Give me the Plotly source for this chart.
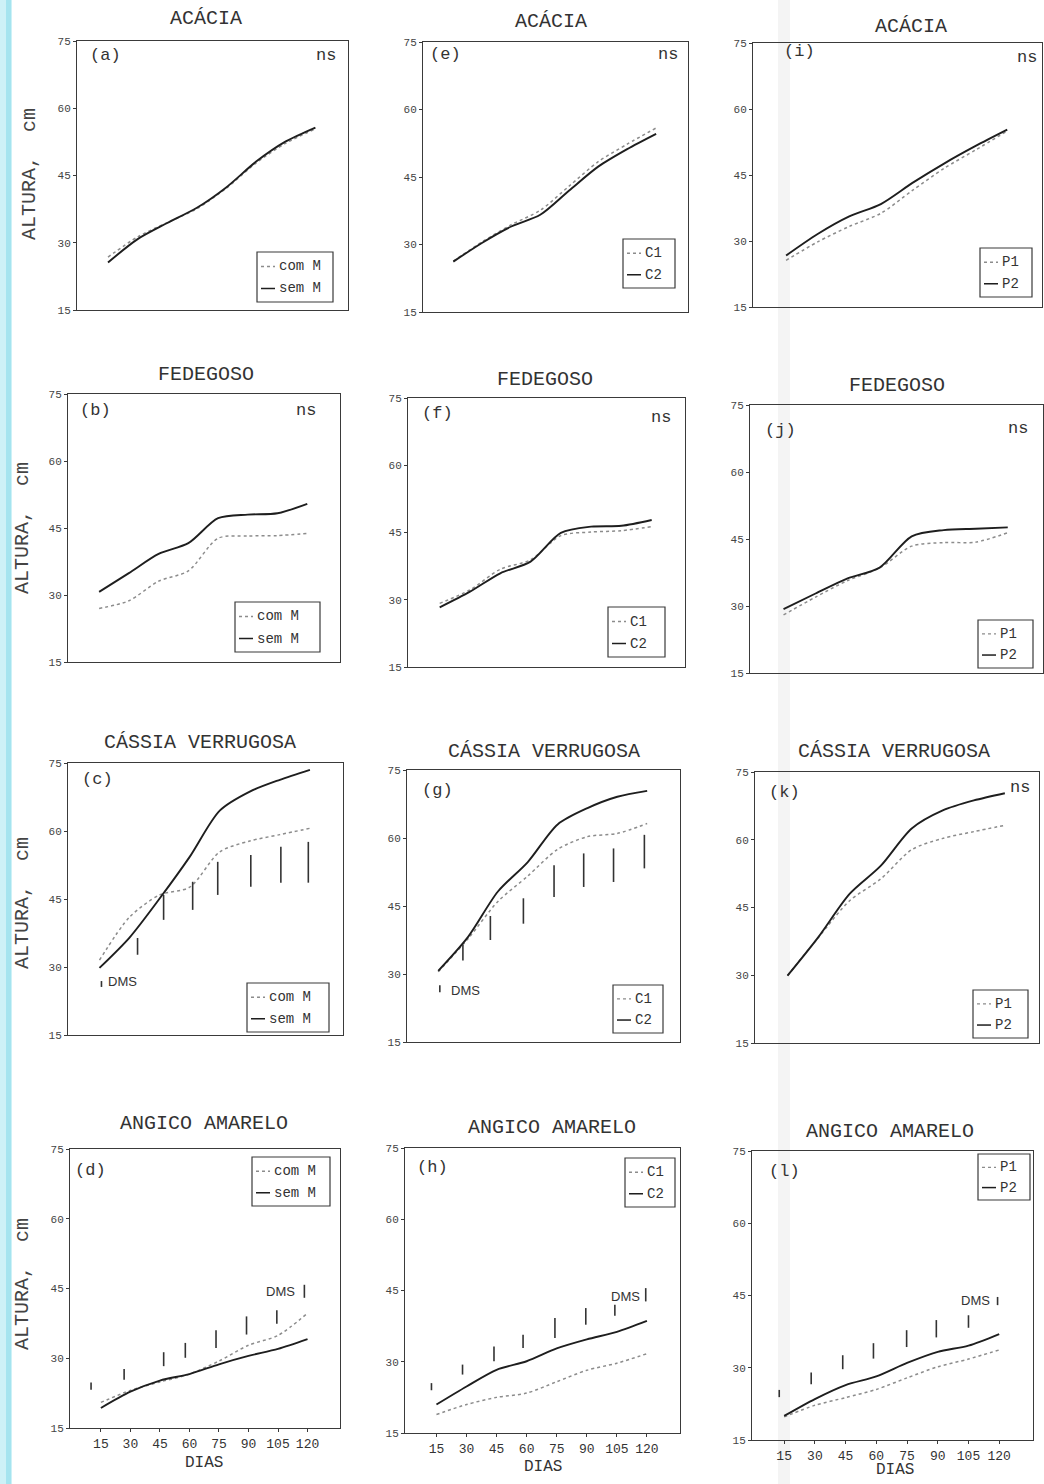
import plotly.graph_objects as go

W, H = 1044, 1484
DAYS = [15, 30, 45, 60, 75, 90, 105, 120]
X_TICKS = [15, 30, 45, 60, 75, 90, 105, 120]
Y_TICKS = [15, 30, 45, 60, 75]

# ---- series values (altura, cm) ----
a_com_M = [26.8, 31.3, 34.5, 37.6, 42.2, 47.8, 52.2, 55.4]
a_sem_M = [25.6, 30.8, 34.4, 37.8, 42.4, 48.1, 52.6, 55.7]
b_com_M = [27.0, 28.7, 33.1, 35.4, 42.7, 43.2, 43.3, 43.8]
b_sem_M = [30.7, 34.9, 39.2, 41.6, 47.2, 48.0, 48.3, 50.4]
c_com_M = [31.5, 41.0, 45.9, 47.6, 55.4, 57.8, 59.2, 60.6]
c_sem_M = [29.8, 36.5, 45.1, 54.3, 64.5, 68.7, 71.3, 73.5]
d_com_M = [20.5, 23.1, 24.9, 26.6, 29.4, 32.8, 34.9, 39.7]
d_sem_M = [19.3, 22.8, 25.2, 26.6, 28.7, 30.5, 32.0, 34.1]
e_C1 = [26.3, 30.6, 34.4, 37.6, 43.0, 48.4, 52.3, 55.9]
e_C2 = [26.2, 30.4, 34.0, 36.6, 42.0, 47.3, 51.2, 54.6]
f_C1 = [29.2, 32.2, 36.8, 38.9, 44.3, 45.1, 45.4, 46.3]
f_C2 = [28.3, 31.8, 35.9, 38.5, 44.9, 46.3, 46.5, 47.8]
g_C1 = [30.5, 37.8, 46.0, 51.6, 57.5, 60.3, 61.0, 63.2]
g_C2 = [30.7, 38.2, 48.2, 54.7, 63.0, 66.6, 69.1, 70.4]
h_C1 = [18.9, 21.0, 22.5, 23.4, 25.8, 28.2, 29.7, 31.7]
h_C2 = [21.0, 24.8, 28.3, 30.1, 32.8, 34.7, 36.3, 38.6]
i_P1 = [25.6, 29.8, 33.3, 36.3, 41.5, 46.5, 50.7, 55.0]
i_P2 = [26.7, 31.6, 35.6, 38.4, 43.2, 47.6, 51.6, 55.3]
j_P1 = [28.0, 32.0, 35.7, 38.5, 43.4, 44.2, 44.3, 46.4]
j_P2 = [29.3, 32.8, 36.2, 38.6, 45.6, 47.0, 47.3, 47.6]
k_P1 = [29.9, 38.4, 46.5, 51.3, 57.8, 60.3, 61.8, 63.2]
k_P2 = [29.9, 38.5, 48.0, 54.2, 62.5, 66.5, 68.7, 70.3]
l_P1 = [19.8, 22.2, 23.8, 25.5, 27.9, 30.2, 31.8, 33.7]
l_P2 = [20.0, 23.5, 26.4, 28.2, 31.0, 33.3, 34.6, 37.0]

# ---- DMS bars (day, low, high) ----
c_dms_x = [16, 34, 47, 61.5, 74, 90.5, 105.5, 119.2]
c_dms_lo = [25.6, 32.7, 40.4, 42.6, 45.9, 47.7, 48.6, 48.6]
c_dms_hi = [26.9, 36.4, 45.9, 48.8, 53.2, 54.7, 56.5, 57.6]
d_dms_x = [10.0, 26.8, 46.9, 57.9, 73.5, 89.0, 104.4, 118.4]
d_dms_lo = [23.2, 25.4, 28.3, 30.1, 32.2, 35.1, 37.4, 43.0]
d_dms_hi = [24.8, 27.7, 31.3, 33.3, 36.0, 39.0, 40.3, 45.8]
g_dms_x = [15.8, 27.4, 41.2, 57.8, 73.2, 88.1, 103.1, 118.6]
g_dms_lo = [26.0, 33.0, 37.5, 41.1, 47.0, 49.2, 50.3, 53.3]
g_dms_hi = [27.5, 36.4, 42.8, 46.7, 54.0, 56.6, 57.7, 60.7]
h_dms_x = [12.5, 28.0, 43.7, 58.2, 74.1, 89.5, 104.0, 119.4]
h_dms_lo = [24.0, 27.3, 30.1, 32.9, 35.0, 37.8, 39.7, 42.7]
h_dms_hi = [25.5, 29.4, 33.2, 35.7, 39.2, 41.3, 42.0, 45.5]
l_dms_x = [12.6, 28.2, 43.6, 58.6, 74.8, 89.3, 105.0, 119.2]
l_dms_lo = [23.9, 26.6, 29.7, 31.9, 34.3, 36.3, 38.3, 43.0]
l_dms_hi = [25.4, 29.0, 32.6, 35.1, 37.8, 39.9, 40.9, 44.7]

MONO = "Liberation Mono, Courier New, monospace"
SANS = "Liberation Sans, Arial, sans-serif"
DARK = "#1e1e1e"
GREY = "#8c8c8c"
AX = "#3a3a3a"

panels = [
    dict(k="a", t="ACÁCIA", n=("com M", "sem M"), s=(a_com_M, a_sem_M), dms=None, ns=(338, 56),
         box=(77, 348, 41, 310), tt=(206, 18), lab=(88, 56), leg=(257, 333, 252, 302)),
    dict(k="b", t="FEDEGOSO", n=("com M", "sem M"), s=(b_com_M, b_sem_M), dms=None, ns=(318, 410),
         box=(68, 340, 394, 662), tt=(206, 374), lab=(78, 410), leg=(235, 320, 602, 652)),
    dict(k="c", t="CÁSSIA VERRUGOSA", n=("com M", "sem M"), s=(c_com_M, c_sem_M),
         dms=(c_dms_x, c_dms_lo, c_dms_hi, 18.5, 26.7, "left"), ns=None,
         box=(68, 343, 763, 1035), tt=(200, 742), lab=(80, 780), leg=(247, 329, 983, 1032)),
    dict(k="d", t="ANGICO AMARELO", n=("com M", "sem M"), s=(d_com_M, d_sem_M),
         dms=(d_dms_x, d_dms_lo, d_dms_hi, 114.5, 44.4, "right"), ns=None,
         box=(70, 340, 1149, 1428), tt=(204, 1123), lab=(73, 1170), leg=(252, 330, 1157, 1206),
         dias=(204, 1463)),
    dict(k="e", t="ACÁCIA", n=("C1", "C2"), s=(e_C1, e_C2), dms=None, ns=(680, 55),
         box=(423, 688, 42, 312), tt=(551, 21), lab=(428, 55), leg=(623, 675, 239, 288)),
    dict(k="f", t="FEDEGOSO", n=("C1", "C2"), s=(f_C1, f_C2), dms=None, ns=(673, 417),
         box=(408, 685, 398, 667), tt=(545, 379), lab=(420, 413), leg=(608, 665, 607, 657)),
    dict(k="g", t="CÁSSIA VERRUGOSA", n=("C1", "C2"), s=(g_C1, g_C2),
         dms=(g_dms_x, g_dms_lo, g_dms_hi, 20.5, 26.4, "left"), ns=None,
         box=(407, 680, 770, 1042), tt=(544, 752), lab=(420, 790), leg=(613, 663, 985, 1033)),
    dict(k="h", t="ANGICO AMARELO", n=("C1", "C2"), s=(h_C1, h_C2),
         dms=(h_dms_x, h_dms_lo, h_dms_hi, 117.5, 43.8, "right"), ns=None,
         box=(405, 680, 1148, 1433), tt=(552, 1127), lab=(415, 1167), leg=(625, 675, 1158, 1207),
         dias=(543, 1467)),
    dict(k="i", t="ACÁCIA", n=("P1", "P2"), s=(i_P1, i_P2), dms=None, ns=(1039, 58),
         box=(753, 1042, 43, 307), tt=(911, 27), lab=(782, 51), leg=(980, 1032, 248, 297)),
    dict(k="j", t="FEDEGOSO", n=("P1", "P2"), s=(j_P1, j_P2), dms=None, ns=(1030, 428),
         box=(750, 1043, 405, 673), tt=(897, 385), lab=(763, 430), leg=(978, 1033, 620, 668)),
    dict(k="k", t="CÁSSIA VERRUGOSA", n=("P1", "P2"), s=(k_P1, k_P2), dms=None, ns=(1032, 787),
         box=(755, 1039, 772, 1043), tt=(894, 752), lab=(767, 792), leg=(973, 1028, 990, 1038)),
    dict(k="l", t="ANGICO AMARELO", n=("P1", "P2"), s=(l_P1, l_P2),
         dms=(l_dms_x, l_dms_lo, l_dms_hi, 116.7, 44.0, "right"), ns=None,
         box=(752, 1033, 1151, 1440), tt=(890, 1131), lab=(767, 1171), leg=(978, 1030, 1154, 1200),
         dias=(895, 1470)),
]

ylabels = [(30, 174), (22, 528), (22, 903), (22, 1284)]


def px(x):
    return x / W


def py(y):
    return 1 - y / H


fig = go.Figure()
annotations = []
shapes = []

# scan artefacts: cyan strip at left edge and faint grey band
shapes.append(dict(type="rect", xref="paper", yref="paper", x0=0, x1=px(12), y0=0, y1=1,
                   fillcolor="#cdf1f7", line=dict(width=0), layer="below"))
shapes.append(dict(type="rect", xref="paper", yref="paper", x0=px(6), x1=px(11), y0=0, y1=1,
                   fillcolor="#a5e4ef", line=dict(width=0), layer="below"))
shapes.append(dict(type="rect", xref="paper", yref="paper", x0=px(778), x1=px(790), y0=0, y1=1,
                   fillcolor="#f4f4f4", line=dict(width=0), layer="below"))

for idx, p in enumerate(panels, start=1):
    xa = "x" if idx == 1 else f"x{idx}"
    ya = "y" if idx == 1 else f"y{idx}"
    l, r, t, b = p["box"]
    bottom_row = "dias" in p
    s1, s2 = p["s"]
    n1, n2 = p["n"]
    fig.add_trace(go.Scatter(x=DAYS, y=s1, name=n1, mode="lines", xaxis=xa, yaxis=ya,
                             line=dict(color=GREY, width=1.5, dash="dot", shape="spline", smoothing=0.8),
                             showlegend=False))
    fig.add_trace(go.Scatter(x=DAYS, y=s2, name=n2, mode="lines", xaxis=xa, yaxis=ya,
                             line=dict(color=DARK, width=1.9, shape="spline", smoothing=0.8),
                             showlegend=False))
    if p["dms"]:
        dx, dlo, dhi, tx, ty, anc = p["dms"]
        bx, by = [], []
        for x0, lo, hi in zip(dx, dlo, dhi):
            bx += [x0, x0, None]
            by += [lo, hi, None]
        fig.add_trace(go.Scatter(x=bx, y=by, mode="lines", name="DMS", xaxis=xa, yaxis=ya,
                                 line=dict(color="#333333", width=1.6), showlegend=False,
                                 hoverinfo="skip"))
        annotations.append(dict(text="DMS", x=tx, y=ty, xref=xa, yref=ya, xanchor=anc,
                                yanchor="middle", showarrow=False,
                                font=dict(family=SANS, size=13, color="#333")))

    xaxis = dict(domain=[px(l), px(r)], range=[-0.7, 136.5], anchor=ya, showline=True, mirror=True,
                 linecolor=AX, linewidth=1.1, showgrid=False, zeroline=False, automargin=False,
                 tickvals=X_TICKS, ticktext=[str(v) for v in X_TICKS],
                 showticklabels=bottom_row, ticks="outside" if bottom_row else "", ticklen=3,
                 tickcolor=AX, tickfont=dict(family=MONO, size=13, color="#333"), fixedrange=True)
    yaxis = dict(domain=[py(b), py(t)], range=[15, 75], anchor=xa, showline=True, mirror=True,
                 linecolor=AX, linewidth=1.1, showgrid=False, zeroline=False, automargin=False,
                 tickvals=Y_TICKS, ticks="outside", ticklen=3, tickcolor=AX,
                 tickfont=dict(family=MONO, size=11, color="#444"), fixedrange=True)
    fig.layout["xaxis" if idx == 1 else f"xaxis{idx}"] = xaxis
    fig.layout["yaxis" if idx == 1 else f"yaxis{idx}"] = yaxis

    # title
    annotations.append(dict(text=p["t"], x=px(p["tt"][0]), y=py(p["tt"][1]), xref="paper",
                            yref="paper", xanchor="center", yanchor="middle", showarrow=False,
                            font=dict(family=MONO, size=20, color="#333")))
    # panel letter
    annotations.append(dict(text=f"({p['k']})", x=px(p["lab"][0]), y=py(p["lab"][1]), xref="paper",
                            yref="paper", xanchor="left", yanchor="middle", showarrow=False,
                            font=dict(family=MONO, size=17, color="#333")))
    if p["ns"]:
        annotations.append(dict(text="ns", x=px(p["ns"][0]), y=py(p["ns"][1]), xref="paper",
                                yref="paper", xanchor="right", yanchor="middle", showarrow=False,
                                font=dict(family=MONO, size=17, color="#333")))
    if bottom_row:
        annotations.append(dict(text="DIAS", x=px(p["dias"][0]), y=py(p["dias"][1]), xref="paper",
                                yref="paper", xanchor="center", yanchor="middle", showarrow=False,
                                font=dict(family=MONO, size=16, color="#333")))
    # legend key
    L0, L1, T0, T1 = p["leg"]
    shapes.append(dict(type="rect", xref="paper", yref="paper", x0=px(L0), x1=px(L1), y0=py(T1),
                       y1=py(T0), line=dict(color=AX, width=1.2), fillcolor="white"))
    hh = T1 - T0
    for row, (nm, col, dash, wd) in enumerate([(n1, GREY, "dot", 1.4), (n2, DARK, "solid", 1.5)]):
        yy = T0 + hh * (0.29 if row == 0 else 0.73)
        shapes.append(dict(type="line", xref="paper", yref="paper", x0=px(L0 + 4), x1=px(L0 + 18),
                           y0=py(yy), y1=py(yy), line=dict(color=col, width=wd, dash=dash)))
        annotations.append(dict(text=nm, x=px(L0 + 20), y=py(yy), xref="paper", yref="paper",
                                xanchor="left", yanchor="middle", showarrow=False,
                                font=dict(family=MONO, size=14, color="#333")))

for (x0, y0) in ylabels:
    annotations.append(dict(text="ALTURA,  cm", x=px(x0), y=py(y0), xref="paper", yref="paper",
                            xanchor="center", yanchor="middle", textangle=-90, showarrow=False,
                            font=dict(family=MONO, size=20, color="#444")))

fig.update_layout(width=W, height=H, margin=dict(l=0, r=0, t=0, b=0), template="none",
                  paper_bgcolor="white", plot_bgcolor="rgba(0,0,0,0)", showlegend=False,
                  annotations=annotations, shapes=shapes,
                  font=dict(family=MONO, color="#333"))

fig.write_html("out.html", config={"displayModeBar": False},
               post_script="document.body.style.margin='0';document.body.style.overflow='hidden';")
